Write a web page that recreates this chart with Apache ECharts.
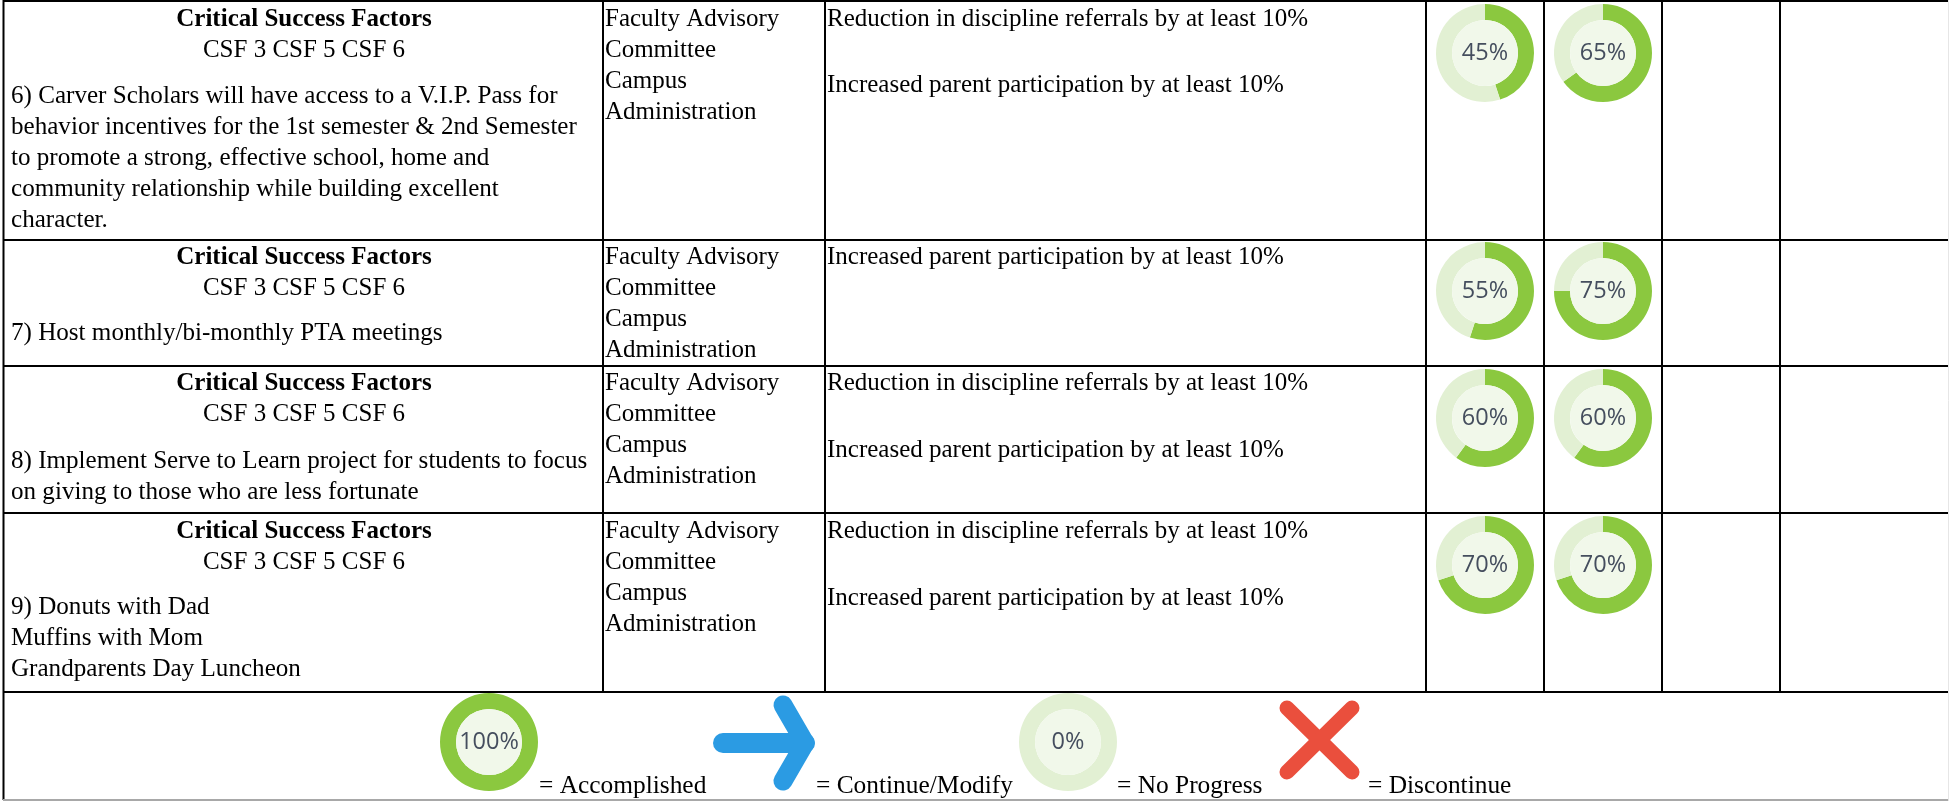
<!DOCTYPE html>
<html>
<head>
<meta charset="utf-8">
<style>
  html, body { margin: 0; padding: 0; background: #fff; }
  #chart { width: 1949px; height: 801px; }
</style>
<script src="https://cdn.jsdelivr.net/npm/echarts@6/dist/echarts.min.js"></script>
</head>
<body>
<div id="chart"></div>
<script>
// progress values, two per row
const progressA = [45, 55, 60, 70]
const progressB = [65, 75, 60, 70]
const legendFull = 100
const legendEmpty = 0

const headerTitle = 'Critical Success Factors'
const headerCodes = 'CSF 3 CSF 5 CSF 6'
const strategyLines = [
  ['6) Carver Scholars will have access to a V.I.P. Pass for',
   'behavior incentives for the 1st semester & 2nd Semester',
   'to promote a strong, effective school, home and',
   'community relationship while building excellent',
   'character.'],
  ['7) Host monthly/bi-monthly PTA meetings'],
  ['8) Implement Serve to Learn project for students to focus',
   'on giving to those who are less fortunate'],
  ['9) Donuts with Dad', 'Muffins with Mom', 'Grandparents Day Luncheon']
]
const responsible = ['Faculty Advisory', 'Committee', 'Campus', 'Administration']
const outcomeReferrals = 'Reduction in discipline referrals by at least 10%'
const outcomeParents = 'Increased parent participation by at least 10%'
const outcomes = [
  [outcomeReferrals, outcomeParents],
  [outcomeParents],
  [outcomeReferrals, outcomeParents],
  [outcomeReferrals, outcomeParents]
]
const legendLabels = ['= Accomplished', '= Continue/Modify', '= No Progress', '= Discontinue']

// layout
const W = 1949
const colLines = [603, 825, 1426, 1544, 1662, 1780]
const rowLines = [1, 240, 366, 513, 692]
const rowTop = [19, 257, 383, 531]
const bodyTop = [96, 333, 461, 607]
const outcomeSecond = [85, 0, 450, 598]
const donutY = [53, 291, 418, 565]
const donutX = [1485, 1603]
const LINE = 31
const GREEN = '#8bc83f'
const PALE = '#e2f0d3'
const CORE = '#f1f8ea'

const serif = 'Liberation Serif'
const text = (x, y, str, extra) => ({
  type: 'text',
  silent: true,
  style: Object.assign({
    x, y, text: str,
    fill: '#000',
    font: '25px "' + serif + '"',
    textVerticalAlign: 'middle'
  }, extra || {})
})
const rule = (x1, y1, x2, y2, stroke, lineWidth) => ({
  type: 'line',
  silent: true,
  shape: { x1, y1, x2, y2 },
  style: { stroke: stroke || '#000', lineWidth: lineWidth || 2 }
})
const stroke = (points, color, lineWidth) => ({
  type: 'polyline',
  silent: true,
  shape: { points },
  style: { stroke: color, lineWidth, lineCap: 'round', lineJoin: 'round', fill: null }
})

const graphics = []
colLines.forEach(x => graphics.push(rule(x, 0, x, rowLines[4])))
graphics.push(rule(3.5, 0, 3.5, 800))
rowLines.forEach(y => graphics.push(rule(3, y, W, y)))
graphics.push(rule(3, 800, W, 800, '#a8a8a8', 2))
graphics.push(rule(1948.5, 0, 1948.5, 801, '#e6e6e6', 1))

rowTop.forEach((y, r) => {
  graphics.push(text(304, y + 1, headerTitle, { font: 'bold 25px "' + serif + '"', textAlign: 'center' }))
  graphics.push(text(304, y + LINE, headerCodes, { textAlign: 'center' }))
  strategyLines[r].forEach((line, i) => graphics.push(text(11, bodyTop[r] + i * LINE, line, { font: '25.1px "' + serif + '"' })))
  responsible.forEach((line, i) => graphics.push(text(605, y + i * LINE, line)))
  graphics.push(text(827, y, outcomes[r][0]))
  if (outcomes[r][1]) graphics.push(text(827, outcomeSecond[r], outcomes[r][1]))
})

// legend labels and the two drawn symbols
const legendX = [539, 816, 1117, 1368]
legendLabels.forEach((label, i) => graphics.push(text(legendX[i], 786, label, { font: '25.4px "' + serif + '"' })))
graphics.push(stroke([[723, 743], [805, 743]], '#2b9be3', 20))
graphics.push(stroke([[783, 705], [805, 743], [783, 781]], '#2b9be3', 19))
graphics.push(stroke([[1287, 708], [1352, 772]], '#ea4f3d', 15))
graphics.push(stroke([[1352, 708], [1287, 772]], '#ea4f3d', 15))

const donut = (x, y, value) => [
  {
    type: 'pie',
    silent: true,
    animation: false,
    center: [x, y],
    radius: [33, 49],
    startAngle: 90,
    clockwise: true,
    label: { show: false },
    labelLine: { show: false },
    data: [
      { value, itemStyle: { color: GREEN } },
      { value: 100 - value, itemStyle: { color: PALE } }
    ]
  },
  {
    type: 'pie',
    silent: true,
    animation: false,
    center: [x, y],
    radius: [0, 33],
    label: {
      show: true,
      position: 'center',
      formatter: value + '%',
      fontFamily: 'Open Sans',
      fontSize: 23.5,
      color: '#454e5e'
    },
    labelLine: { show: false },
    data: [{ value: 1, itemStyle: { color: CORE } }]
  }
]

const series = []
donutY.forEach((y, r) => {
  series.push(...donut(donutX[0], y, progressA[r]))
  series.push(...donut(donutX[1], y, progressB[r]))
})
series.push(...donut(489, 742, legendFull))
series.push(...donut(1068, 742, legendEmpty))

const chart = echarts.init(document.getElementById('chart'), null, { renderer: 'canvas' })
chart.setOption({
  animation: false,
  backgroundColor: '#fff',
  series,
  graphic: { elements: graphics }
})
</script>
</body>
</html>
